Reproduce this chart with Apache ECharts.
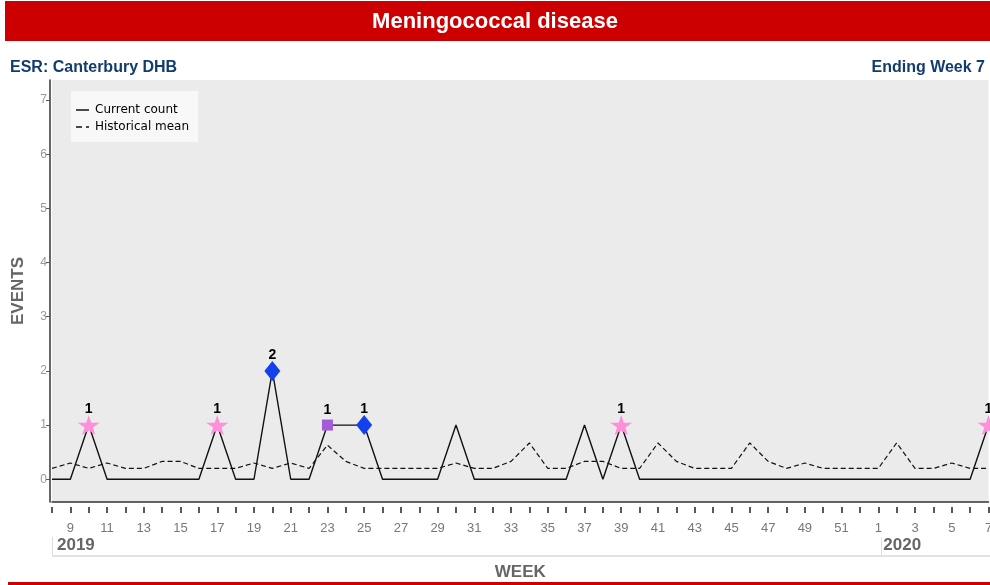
<!DOCTYPE html>
<html>
<head>
<meta charset="utf-8">
<script src="https://cdn.jsdelivr.net/npm/echarts@6/dist/echarts.min.js"></script>
<style>
  html, body { margin: 0; padding: 0; background: #fff; }
  #chart { width: 990px; height: 585px; }
</style>
</head>
<body>
<div id="chart"></div>
<script>
// weeks 8..52 of 2019 then 1..7 of 2020
const weeks = ['8','9','10','11','12','13','14','15','16','17','18','19','20','21','22','23','24','25','26','27','28','29','30',
  '31','32','33','34','35','36','37','38','39','40','41','42','43','44','45','46','47','48','49','50','51','52',
  '1','2','3','4','5','6','7'];
const yearLabels = ['2019', '2020'];
const yearStartIdx = [0, 45];

const currentCount = [0,0,1,0,0,0,0,0,0,1,0,0,2,0,0,1,1,1,0,0,0,0,1,
  0,0,0,0,0,0,1,0,1,0,0,0,0,0,0,0,0,0,0,0,0,0,
  0,0,0,0,0,0,1];
const historicalMean = [0.2,0.3,0.2,0.3,0.2,0.2,0.33,0.33,0.2,0.2,0.2,0.3,0.2,0.3,0.2,0.63,0.33,0.2,0.2,0.2,0.2,0.2,0.3,
  0.2,0.2,0.33,0.67,0.2,0.2,0.33,0.33,0.2,0.2,0.67,0.33,0.2,0.2,0.2,0.67,0.33,0.2,0.3,0.2,0.2,0.2,
  0.2,0.67,0.2,0.2,0.3,0.2,0.2];

// flagged weeks
const starWeeks = ['10', '17', '39', '7'];
const diamondWeeks = ['20', '25'];
const squareWeeks = ['23'];

const yTicks = [0, 1, 2, 3, 4, 5, 6, 7];

const starPath = 'path://M50,0 L61,35 L98,35 L68,57 L79,91 L50,70 L21,91 L32,57 L2,35 L39,35 Z';
const solidIcon = 'path://M0,0 H13 V1.5 H0 Z';
const dashIcon = 'path://M0,0 H6 V1.5 H0 Z M10,0 H13 V1.5 H10 Z';
const sans = 'Liberation Sans';

const toPoints = list => list.map(w => {
  const i = weeks.indexOf(w);
  return [i, currentCount[i]];
});

const markLabel = dist => ({
  show: true,
  position: 'top',
  distance: dist,
  formatter: p => p.value[1],
  color: '#000',
  fontSize: 14,
  fontWeight: 'bold',
  fontFamily: sans
});

const chart = echarts.init(document.getElementById('chart'));

const option = {
  animation: false,
  title: [
    {
      text: 'Meningococcal disease',
      left: 'center',
      top: 6,
      textStyle: { color: '#fff', fontSize: 22, fontWeight: 'bold', fontFamily: sans }
    },
    {
      text: 'ESR: Canterbury DHB',
      left: 5,
      top: 55,
      textStyle: { color: '#123c6e', fontSize: 16, fontWeight: 'bold', fontFamily: sans }
    },
    {
      text: 'Ending Week 7',
      right: 0,
      top: 55,
      textStyle: { color: '#123c6e', fontSize: 16, fontWeight: 'bold', fontFamily: sans }
    }
  ],
  graphic: [
    { type: 'rect', shape: { x: 5, y: 1, width: 985, height: 40 }, style: { fill: '#CC0000' }, z: 0, silent: true },
    { type: 'rect', shape: { x: 8, y: 582, width: 982, height: 3 }, style: { fill: '#CC0000' }, z: 0, silent: true },
    { type: 'line', shape: { x1: 52.5, y1: 537, x2: 52.5, y2: 556 }, style: { stroke: '#dddddd', lineWidth: 1 }, silent: true },
    { type: 'line', shape: { x1: 52, y1: 556, x2: 990, y2: 556 }, style: { stroke: '#e2e2e2', lineWidth: 2 }, silent: true },
    { type: 'line', shape: { x1: 881.5, y1: 537, x2: 881.5, y2: 556 }, style: { stroke: '#dddddd', lineWidth: 1 }, silent: true }
  ],
  legend: {
    data: [
      { name: 'Current count', icon: solidIcon },
      { name: 'Historical mean', icon: dashIcon }
    ],
    orient: 'vertical',
    left: 71,
    top: 91,
    backgroundColor: '#F8F8F8',
    padding: [13, 9, 9, 5],
    itemWidth: 13,
    itemHeight: 1.5,
    itemGap: 5,
    selectedMode: false,
    textStyle: { color: '#000', fontSize: 12, fontFamily: 'DejaVu Sans', padding: [0, 0, 0, 1] }
  },
  grid: {
    left: 52,
    right: 1.5,
    top: 80,
    bottom: 83,
    show: true,
    backgroundColor: '#EBEBEB',
    borderWidth: 0,
    outerBoundsMode: 'none'
  },
  xAxis: [
    {
      type: 'category',
      position: 'bottom',
      data: weeks,
      boundaryGap: false,
      axisLine: { show: true, onZero: false, lineStyle: { color: '#333', width: 1.5 } },
      axisTick: { show: false },
      splitLine: { show: false },
      axisLabel: {
        interval: i => i % 2 === 1,
        color: '#777',
        fontSize: 13,
        margin: 20,
        fontFamily: sans
      },
      name: 'WEEK',
      nameLocation: 'middle',
      nameGap: 62,
      nameTextStyle: { color: '#666', fontSize: 17, fontWeight: 'bold', fontFamily: sans }
    },
    {
      type: 'category',
      position: 'bottom',
      data: weeks,
      boundaryGap: false,
      offset: 5,
      axisLine: { show: false, onZero: false },
      axisTick: { show: true, interval: 0, length: 6, lineStyle: { color: '#222', width: 1.5 } },
      axisLabel: { show: false },
      splitLine: { show: false }
    },
    {
      type: 'category',
      position: 'bottom',
      data: weeks,
      boundaryGap: false,
      axisLine: { show: false, onZero: false },
      axisTick: { show: false },
      splitLine: { show: false },
      axisLabel: {
        interval: i => yearStartIdx.includes(i),
        formatter: (v, i) => yearLabels[yearStartIdx.indexOf(i)] || '',
        align: 'left',
        padding: [0, 0, 0, 5],
        margin: 35,
        color: '#666',
        fontSize: 17,
        fontWeight: 'bold',
        fontFamily: sans
      }
    }
  ],
  yAxis: {
    type: 'value',
    min: -0.42,
    max: 7.37,
    offset: 2,
    axisLine: { show: true, lineStyle: { color: '#333', width: 1.5 } },
    axisTick: { show: true, length: 4, customValues: yTicks, lineStyle: { color: '#555' } },
    axisLabel: { customValues: yTicks, color: '#999', fontSize: 12, margin: 3, fontFamily: sans },
    splitLine: { show: false },
    name: 'EVENTS',
    nameLocation: 'middle',
    nameRotate: 90,
    nameGap: 23,
    nameTextStyle: { color: '#666', fontSize: 17, fontWeight: 'bold', fontFamily: sans }
  },
  series: [
    {
      name: 'Current count',
      type: 'line',
      data: currentCount,
      symbol: 'none',
      itemStyle: { color: '#111' },
      lineStyle: { color: '#111', width: 1.4 },
      z: 3
    },
    {
      name: 'Historical mean',
      type: 'line',
      data: historicalMean,
      symbol: 'none',
      itemStyle: { color: '#111' },
      lineStyle: { color: '#111', width: 1.2, type: [5, 3] },
      z: 2
    },
    {
      name: 'star',
      type: 'scatter',
      data: toPoints(starWeeks),
      symbol: starPath,
      symbolSize: [22, 20],
      itemStyle: { color: '#FF8FD8', opacity: 1 },
      label: markLabel(-1),
      z: 5
    },
    {
      name: 'diamond',
      type: 'scatter',
      data: toPoints(diamondWeeks),
      symbol: 'diamond',
      symbolSize: [16, 20],
      itemStyle: { color: '#1240EC', opacity: 1 },
      label: markLabel(-1),
      z: 5
    },
    {
      name: 'square',
      type: 'scatter',
      data: toPoints(squareWeeks),
      symbol: 'rect',
      symbolSize: 11,
      itemStyle: { color: '#A45BD8', opacity: 1 },
      label: markLabel(2),
      z: 5
    }
  ]
};

chart.setOption(option);
</script>
</body>
</html>
